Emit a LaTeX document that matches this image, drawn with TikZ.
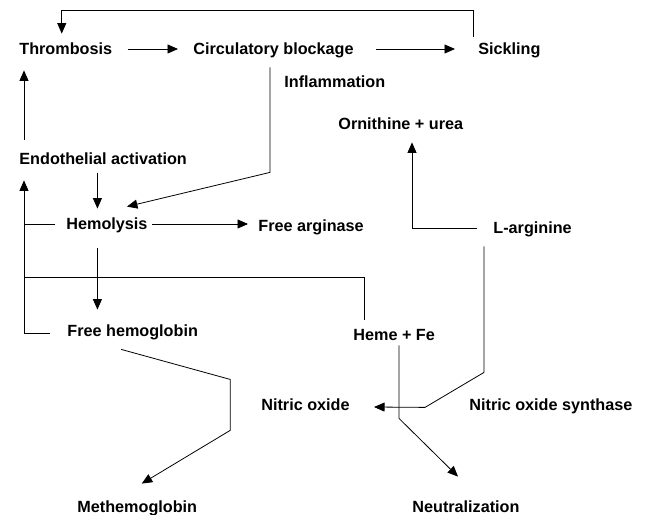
\documentclass[tikz,border=0pt]{standalone}
\usepackage{fontspec}
\setmainfont{Liberation Sans}
\usetikzlibrary{arrows.meta}

\begin{document}
\begin{tikzpicture}[x=1bp,y=-1bp,line width=0.8pt,
  lbl/.style={anchor=west,inner sep=0pt,text height=12bp,text depth=0pt,
    font=\bfseries\fontsize{16.2bp}{19bp}\selectfont},
  arr/.style={-{Triangle[length=10.5bp,width=9bp]}}]

\useasboundingbox (0,0) rectangle (648,515);

% ---- Labels ----
\node[lbl] (thromb) at (19,49) {Thrombosis};
\node[lbl] (circ) at (193,49) {Circulatory blockage};
\node[lbl] (sickl) at (478,49) {Sickling};
\node[lbl] (inflam) at (284,82) {Inflammation};
\node[lbl] (ornith) at (338,124) {Ornithine + urea};
\node[lbl] (endoth) at (19,159) {Endothelial activation};
\node[lbl] (hemol) at (66,224) {Hemolysis};
\node[lbl] (freearg) at (258,226) {Free arginase};
\node[lbl] (larg) at (493,228) {L-arginine};
\node[lbl] (freehb) at (67,330) {Free hemoglobin};
\node[lbl] (heme) at (353,334) {Heme + Fe};
\node[lbl] (nitric) at (261,404) {Nitric oxide};
\node[lbl] (nos) at (469,404) {Nitric oxide synthase};
\node[lbl] (methb) at (77,506) {Methemoglobin};
\node[lbl] (neutr) at (412,506) {Neutralization};

% ---- Top row ----
% Sickling back to thrombosis
\draw[arr] ([shift={(-5,-6)}]sickl.north west) -- ++(0,-26) -| ([shift={(-4,-9)}]thromb.north);
\draw[arr] ([shift={(15,0)}]thromb.east) -- ([shift={(-15,0)}]circ.west);
\draw[arr] ([shift={(22,0)}]circ.east) -- ([shift={(-23,0)}]sickl.west);

% Blockage down to hemolysis
\draw[arr] ([shift={(-3.5,12)}]circ.south) -- ++(0,105) -- ([shift={(20,-11)}]hemol.north);

% Endothelial activation
\draw[arr] ([shift={(5,-13)}]endoth.north west) -- ([shift={(5,15)}]thromb.south west);
\draw[arr] ([shift={(-9.5,-45)}]hemol.north) -- ([shift={(-9.5,-9)}]hemol.north);

% ---- Hemolysis ----
\draw[arr] ([shift={(4,0)}]hemol.east) -- ([shift={(-10,0)}]hemol.east -| freearg.west);
\draw[arr] ([shift={(-9.5,18)}]hemol.south) -- ([shift={(-9.5,-14)}]hemol.south |- freehb.north);

% Left bus back to endothelial activation
\coordinate (bus) at (24,277);
\draw[arr] ([shift={(-17,3)}]freehb.west) -| ([shift={(0,15)}]bus |- endoth.south);
\draw ([shift={(-11,0)}]hemol.west) -- (hemol.west -| bus);
\draw ([shift={(11,-8)}]heme.north west) |- (bus);

% ---- Lower part ----
\draw[arr] ([shift={(-11.5,13)}]freehb.south) -- ++(109,30) -- ++(0,51) -- ([shift={(4.5,-16)}]methb.north);
\draw[arr] ([shift={(46,5)}]heme.south west) -- ++(0,73) -- ([shift={(46,-23)}]neutr.north west);

% L-arginine
\draw[arr] ([shift={(-9,12)}]larg.south west) -- ++(0,126) -- ++(-59,35) -- ([shift={(24,3)}]nitric.east);
\draw[arr] ([shift={(-16,0)}]larg.west) -| ([shift={(74,12)}]ornith.south west);

\end{tikzpicture}
\end{document}
